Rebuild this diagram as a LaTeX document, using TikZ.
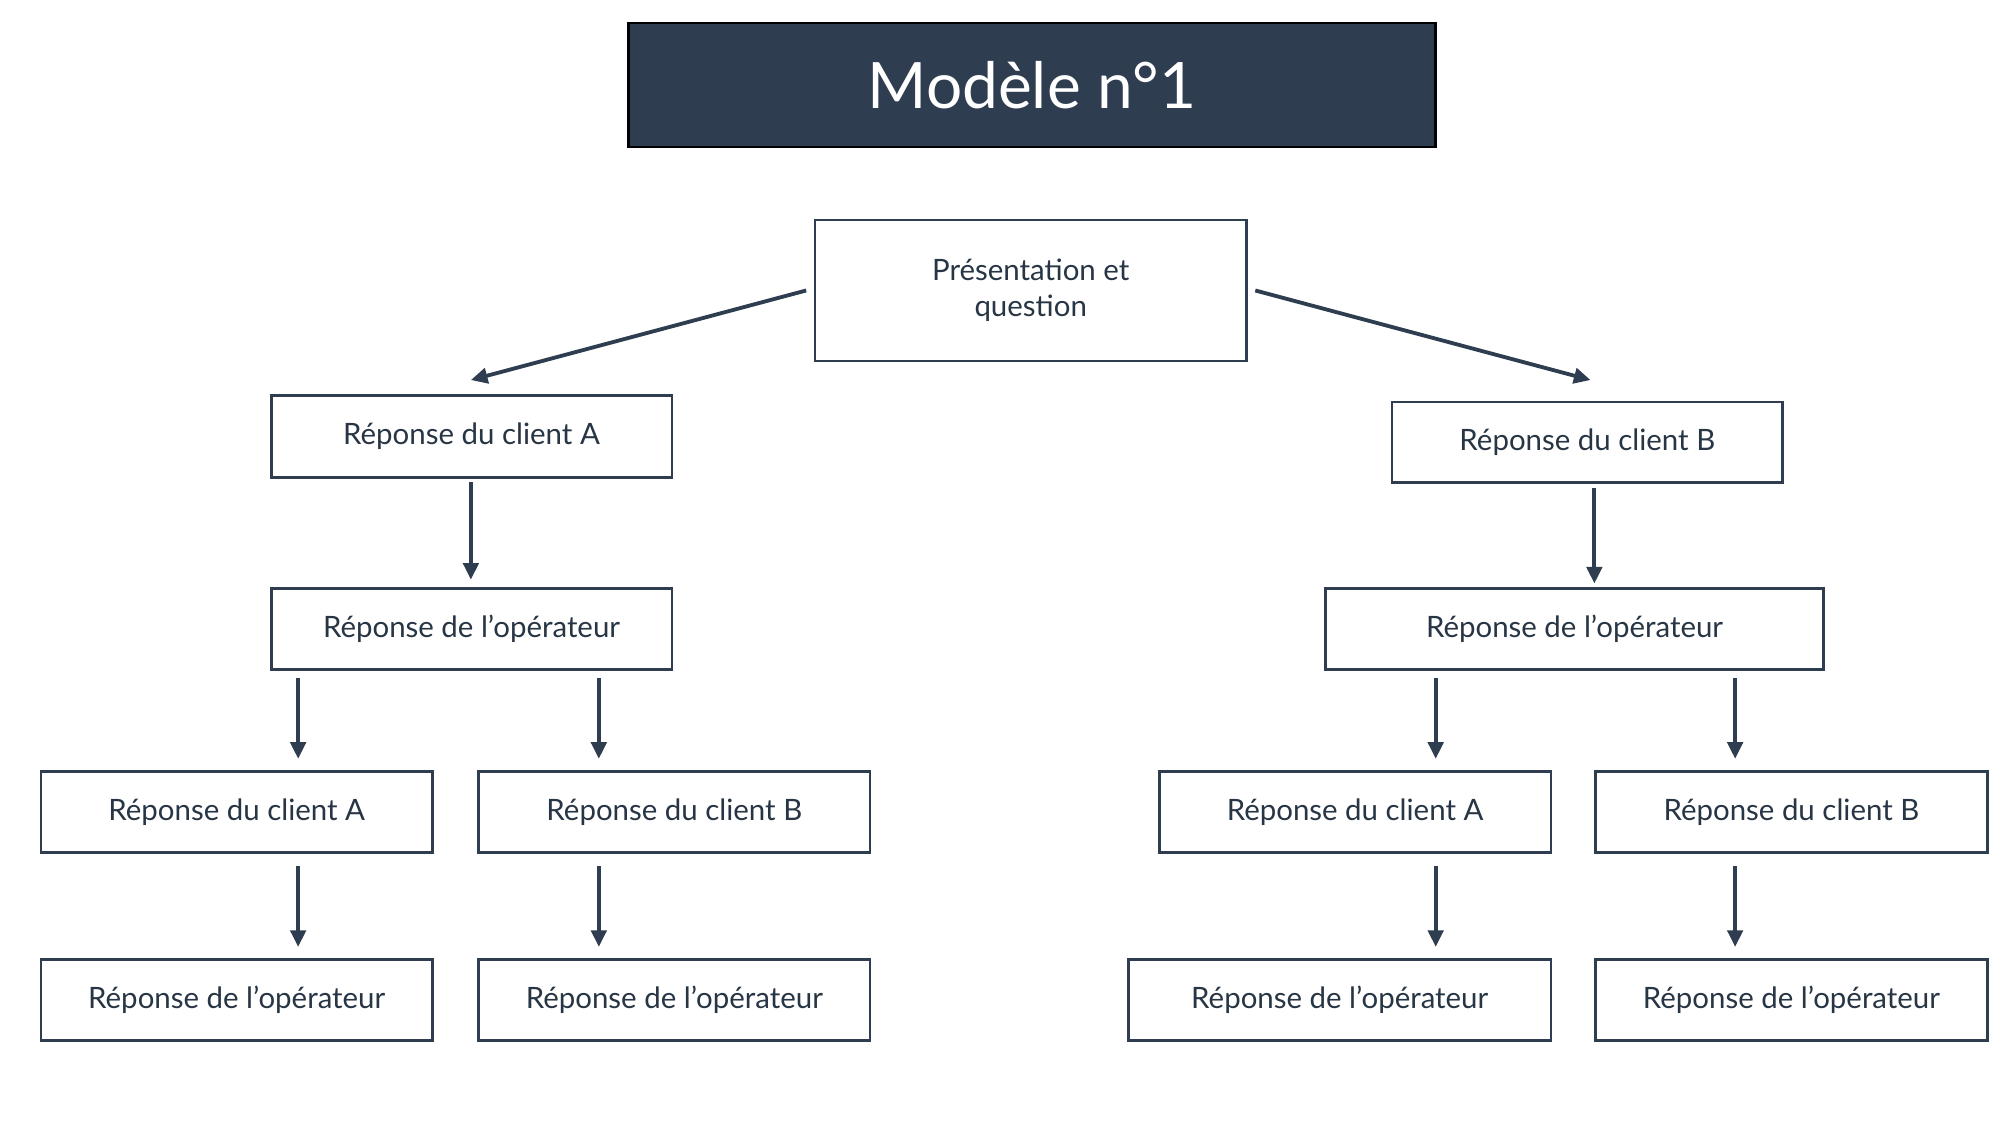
\documentclass[tikz,border=0pt]{standalone}
\usepackage{fontspec}
\setmainfont{Lato}
\usetikzlibrary{arrows.meta}
\definecolor{navy}{HTML}{2E3E50}
\tikzset{
  box/.style={draw=navy, line width=2pt, inner sep=0pt, align=center, font=\fontsize{23}{28}\selectfont, text=navy!85!black},
  next/.style={-{Triangle[length=13pt,width=12pt]}, draw=navy, line width=3pt}
}
\begin{document}
\begin{tikzpicture}[x=1pt,y=-1pt]
  \useasboundingbox (0,0) rectangle (1563,879);

  % --- title ---
  \node[draw=black, line width=2pt, fill=navy, text=white, minimum width=631pt, minimum height=97pt,
        font=\fontsize{50}{60}\selectfont] (title) at (806.5,66.5) {Modèle n°1};

  % --- root and first answers ---
  \node[box, minimum width=337pt, minimum height=110pt] (root) at (805.5,227) {Présentation et\\question};
  \node[box, minimum width=313pt, minimum height=64pt] (cliA) at (368.5,341) {Réponse du client A};
  \node[box, minimum width=305pt, minimum height=63pt] (cliB) at (1240.5,345.5) {Réponse du client B};

  % --- operator answers ---
  \node[box, minimum width=313pt, minimum height=63pt] (opA) at (368.5,491.5) {Réponse de l'opérateur};
  \node[box, minimum width=389pt, minimum height=63pt] (opB) at (1230.5,491.5) {Réponse de l'opérateur};

  % --- third row ---
  \node[box, minimum width=306pt, minimum height=63pt] (cliAA) at (185,634.5) {Réponse du client A};
  \node[box, minimum width=306pt, minimum height=63pt] (cliAB) at (527,634.5) {Réponse du client B};
  \node[box, minimum width=306pt, minimum height=63pt] (cliBA) at (1059,634.5) {Réponse du client A};
  \node[box, minimum width=306pt, minimum height=63pt] (cliBB) at (1400,634.5) {Réponse du client B};

  % --- fourth row ---
  \node[box, minimum width=306pt, minimum height=63pt] (opAA) at (185,781.5) {Réponse de l'opérateur};
  \node[box, minimum width=306pt, minimum height=63pt] (opAB) at (527,781.5) {Réponse de l'opérateur};
  \node[box, minimum width=330pt, minimum height=63pt] (opBA) at (1047,781.5) {Réponse de l'opérateur};
  \node[box, minimum width=306pt, minimum height=63pt] (opBB) at (1400,781.5) {Réponse de l'opérateur};

  % --- arrow ends ---
  \coordinate (rl) at (630,227);
  \coordinate (rr) at (981,227);
  \coordinate (al) at (368,297);
  \coordinate (ar) at (1243,297);
  \foreach \n/\x/\ya/\yb in {a1/368/377/453, b1/1246/381/456,
      a2/233/530/593, a3/468/530/593, b2/1122/530/593, b3/1356/530/593,
      a4/233/677/740, a5/468/677/740, b4/1122/677/740, b5/1356/677/740} {
    \coordinate (\n s) at (\x,\ya);
    \coordinate (\n e) at (\x,\yb);
  }

  % --- connectors ---
  \draw[next] (rl) -- (al);
  \draw[next] (rr) -- (ar);
  \foreach \n in {a1,b1,a2,a3,b2,b3,a4,a5,b4,b5}
    \draw[next] (\n s) -- (\n e);
\end{tikzpicture}
\end{document}
